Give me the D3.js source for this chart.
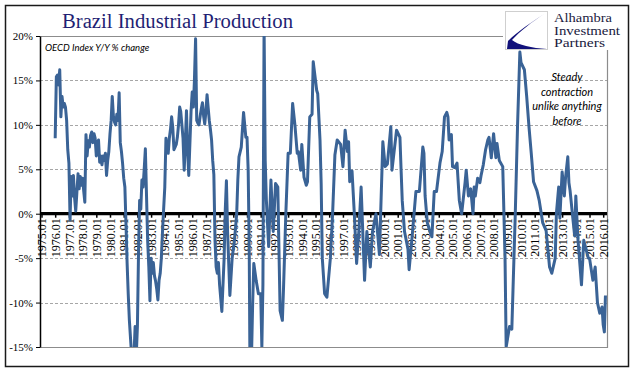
<!DOCTYPE html>
<html><head><meta charset="utf-8">
<script src="https://cdn.jsdelivr.net/npm/d3@7"></script>
<style>body{margin:0;background:#fff}svg{display:block}</style>
</head><body>
<svg id="c" width="641" height="379"></svg>
<script>
// ---- data (OECD Brazil industrial production index, Y/Y % change) ----
const months = [
"1976-01","1976-02","1976-03","1976-04","1976-05","1976-06","1976-07","1976-08","1976-09","1976-10","1976-11","1976-12",
"1977-01","1977-02","1977-03","1977-04","1977-05","1977-06","1977-07","1977-08","1977-09","1977-10","1977-11","1977-12",
"1978-01","1978-02","1978-03","1978-04","1978-05","1978-06","1978-07","1978-08","1978-09","1978-10","1978-11","1978-12",
"1979-01","1979-02","1979-03","1979-04","1979-05","1979-06","1979-07","1979-08","1979-09","1979-10","1979-11","1979-12",
"1980-01","1980-02","1980-03","1980-04","1980-05","1980-06","1980-07","1980-08","1980-09","1980-10","1980-11","1980-12",
"1981-01","1981-02","1981-03","1981-04","1981-05","1981-06","1981-07","1981-08","1981-09","1981-10","1981-11","1981-12",
"1982-01","1982-02","1982-03","1982-04","1982-05","1982-06","1982-07","1982-08","1982-09","1982-10","1982-11","1982-12",
"1983-01","1983-02","1983-03","1983-04","1983-05","1983-06","1983-07","1983-08","1983-09","1983-10","1983-11","1983-12",
"1984-01","1984-02","1984-03","1984-04","1984-05","1984-06","1984-07","1984-08","1984-09","1984-10","1984-11","1984-12",
"1985-01","1985-02","1985-03","1985-04","1985-05","1985-06","1985-07","1985-08","1985-09","1985-10","1985-11","1985-12",
"1986-01","1986-02","1986-03","1986-04","1986-05","1986-06","1986-07","1986-08","1986-09","1986-10","1986-11","1986-12",
"1987-01","1987-02","1987-03","1987-04","1987-05","1987-06","1987-07","1987-08","1987-09","1987-10","1987-11","1987-12",
"1988-01","1988-03","1988-05","1988-06","1988-07","1988-08","1988-10","1988-12",
"1989-02","1989-04","1989-05","1989-06","1989-08","1989-10","1989-12",
"1990-01","1990-02","1990-03","1990-04","1990-05","1990-06","1990-07","1990-09","1990-11","1990-12",
"1991-01","1991-02","1991-03","1991-04","1991-05","1991-06","1991-08","1991-10","1991-12",
"1992-02","1992-04","1992-06","1992-08","1992-09","1992-11",
"1993-01","1993-03","1993-05","1993-07","1993-09","1993-10","1993-12",
"1994-01","1994-03","1994-05","1994-06","1994-08","1994-10","1994-11",
"1995-01","1995-02","1995-03","1995-05","1995-06","1995-07","1995-09","1995-11",
"1996-02","1996-04","1996-06","1996-08","1996-11",
"1997-01","1997-03","1997-05","1997-06","1997-07","1997-09","1997-11",
"1998-01","1998-03","1998-05","1998-08","1998-10",
"1999-01","1999-03","1999-06","1999-09","1999-12",
"2000-02","2000-04","2000-07","2000-08","2000-12",
"2001-03","2001-04","2001-05","2001-07","2001-10","2001-11",
"2002-02","2002-05","2002-08","2002-11","2002-12",
"2003-01","2003-03","2003-05","2003-07","2003-09","2003-11",
"2004-02","2004-04","2004-06","2004-08","2004-09","2004-10","2004-12",
"2005-01","2005-03","2005-05","2005-07","2005-09","2005-12",
"2006-01","2006-03","2006-05","2006-07","2006-08","2006-09","2006-11",
"2007-01","2007-02","2007-04","2007-06","2007-08","2007-09","2007-11",
"2008-01","2008-03","2008-04","2008-06","2008-09","2008-11","2008-12",
"2009-03","2009-05","2009-06","2009-08","2009-10","2009-12",
"2010-01","2010-04","2010-06","2010-08","2010-10","2010-12",
"2011-03","2011-05","2011-08","2011-11",
"2012-02","2012-04","2012-07","2012-08","2012-10","2012-11",
"2013-01","2013-03","2013-04","2013-06","2013-07","2013-08","2013-10","2013-12",
"2014-01","2014-03","2014-06","2014-08","2014-10","2014-12",
"2015-01","2015-04","2015-06","2015-08","2015-10","2015-12",
"2016-01","2016-02","2016-03"
];
const yoy = [
8.5,15.4,15.6,14.5,16.2,10.9,13.2,12.0,12.4,12.0,10.5,7.2,
5.7,-0.7,4.2,2.0,4.3,1.8,0.3,2.4,4.5,2.8,4.2,3.2,
4.0,2.5,1.3,8.9,6.5,8.2,7.5,8.8,9.2,8.0,9.0,8.5,
6.5,8.0,8.3,5.8,6.5,5.5,6.5,6.0,6.8,4.3,6.0,7.0,
9.0,10.5,13.2,11.0,10.3,10.0,11.2,10.5,13.6,8.0,7.0,5.7,
4.0,3.0,-1.0,-5.5,-9.0,-12.0,-14.0,-16.0,-15.5,-16.0,-12.7,-16.0,
-12.7,-4.0,1.5,0.5,3.8,3.0,5.0,7.3,2.0,-3.0,-6.0,-9.8,
-5.0,-6.7,-5.5,-7.0,-7.6,-8.5,-9.7,-7.5,-6.7,-5.0,-2.0,0.5,
3.0,8.5,7.5,6.8,8.5,9.5,10.9,9.7,7.2,7.5,7.8,8.6,
10.0,12.0,11.5,10.0,8.5,4.9,8.0,11.6,7.0,4.3,8.0,11.5,
13.7,12.0,15.0,19.7,10.5,10.2,10.0,11.0,11.8,12.5,11.0,10.1,
11.5,13.4,12.0,10.5,9.5,8.3,6.0,4.4,-3.0,-6.0,-6.7,-5.5,
-8.0,-11.0,-5.0,0.5,3.7,-2.0,-9.2,-5.0,
-3.0,0.0,3.8,6.4,7.5,11.4,8.6,
8.6,4.9,-4.0,-25.0,-16.0,-10.0,-5.6,-7.5,-9.0,-9.0,
-9.0,-15.0,-8.0,21.0,6.0,1.5,-3.7,3.8,-2.0,
3.4,3.0,-10.9,-12.0,-8.3,0.0,
6.8,6.8,12.4,10.0,6.8,7.0,4.9,
7.8,4.1,3.2,3.6,10.9,11.2,17.1,
15.0,13.9,13.5,8.3,3.4,-5.0,-9.0,-9.4,
-5.0,0.0,6.6,8.3,7.8,
5.3,9.4,7.0,8.1,3.6,4.8,0.0,
-5.6,-2.0,3.0,-7.5,-2.0,
-6.0,-2.0,0.0,-4.6,8.1,
5.3,5.6,9.8,4.9,9.4,
8.6,4.9,1.5,-2.0,-4.0,-6.3,
-2.0,2.5,2.5,7.5,6.8,
2.0,-1.0,-1.9,-2.6,2.5,2.5,
5.7,7.0,10.9,11.4,10.9,8.3,8.9,
5.3,5.2,5.7,1.5,0.0,3.5,
4.9,2.0,2.8,0.0,3.0,2.0,4.0,
3.5,4.3,5.5,7.2,8.3,8.6,6.3,
9.0,6.3,7.9,6.0,5.3,-5.0,-15.0,
-12.7,-13.0,-8.6,0.0,10.0,18.2,
17.0,16.2,13.2,9.8,6.8,3.6,
2.6,1.5,-1.0,-1.9,
-6.0,-6.7,-5.0,0.0,3.0,-0.5,
4.7,2.0,4.0,6.4,3.5,2.6,0.0,-2.5,
2.0,-3.0,-8.0,-3.0,-4.0,-5.0,
-5.0,-7.5,-6.0,-10.0,-11.2,-10.5,
-12.5,-13.3,-9.2
];
const yTicks = [20, 15, 10, 5, 0, -5, -10, -15];
const gridTicks = [15, 10, 5, -5, -10];
const xTickYears = d3.range(1975, 2017);
const noteLines = ["Steady", "contraction", "unlike anything", "before"];
const logoLines = ["Alhambra", "Investment", "Partners"];

// ---- layout ----
const svg = d3.select("#c");
const L = 40, R = 607, T = 36, B = 347;
const parse = d3.timeParse("%Y-%m");
const x = d3.scaleTime().domain([new Date(1975,0,1), new Date(2016,0,1)]).range([41.5, 603.2]);
const y = d3.scaleLinear().domain([-15, 20]).range([B, T]);
const data = months.map((m, i) => ({d: parse(m), v: yoy[i]}));

// outer frame
svg.append("rect").attr("x",5.5).attr("y",5.5).attr("width",623).attr("height",361)
  .attr("fill","#fff").attr("stroke","#1a1a1a").attr("stroke-width",1.5);

// grid
svg.append("g").selectAll("line").data(gridTicks).join("line")
  .attr("x1",L).attr("x2",R).attr("y1",d=>Math.round(y(d))+0.5).attr("y2",d=>Math.round(y(d))+0.5)
  .attr("stroke","#a6a6a6").attr("stroke-width",1).attr("stroke-dasharray","3,2");

// plot border (top, right, bottom)
svg.append("path").attr("d",`M${L},${T+0.5}H${R+0.5}V${B+0.5}H${L}`)
  .attr("fill","none").attr("stroke","#8c8c8c").attr("stroke-width",1.2);

// clip
svg.append("clipPath").attr("id","pc").append("rect").attr("x",L).attr("y",T).attr("width",R-L).attr("height",B-T);

// x axis at zero
const xAxis = d3.axisBottom(x).tickValues(xTickYears.map(yr => new Date(yr,0,1)))
  .tickFormat(d => d.getFullYear() + ".01").tickSize(4).tickSizeOuter(0);
const gx = svg.append("g").attr("transform",`translate(0,${y(0)})`).call(xAxis);
gx.select(".domain").remove();
gx.selectAll(".tick line").attr("stroke","#000").attr("stroke-width",1.5);
gx.selectAll(".tick text").attr("transform","rotate(-90)").attr("text-anchor","end")
  .attr("x",-4.5).attr("y",0).attr("dy","0.35em")
  .style("font-family","'Liberation Serif','Times New Roman',serif").style("font-size","12px").attr("fill","#000");
svg.append("line").attr("x1",L).attr("x2",R).attr("y1",y(0)).attr("y2",y(0))
  .attr("stroke","#000").attr("stroke-width",3.2);

// line
const line = d3.line().x(d=>x(d.d)).y(d=>y(d.v));
svg.append("path").datum(data).attr("clip-path","url(#pc)")
  .attr("d",line).attr("fill","none").attr("stroke","#3a6396").attr("stroke-width",3)
  .attr("stroke-linejoin","round");

// y axis
const yAxis = d3.axisLeft(y).tickValues(yTicks).tickFormat(d=>d+"%").tickSize(4).tickPadding(3).tickSizeOuter(0);
const gy = svg.append("g").attr("transform",`translate(${L},0)`).call(yAxis);
gy.select(".domain").attr("stroke","#000").attr("stroke-width",1.5);
gy.selectAll(".tick line").attr("stroke","#000");
gy.selectAll(".tick text").style("font-family","'Liberation Serif','Times New Roman',serif")
  .style("font-size","11px").attr("fill","#000");

// title
svg.append("text").attr("x",62).attr("y",28).text("Brazil Industrial Production")
  .attr("textLength",231).attr("lengthAdjust","spacingAndGlyphs")
  .style("font-family","'Liberation Serif','Times New Roman',serif").style("font-size","20px").attr("fill","#1f1f74");

// subtitle
svg.append("text").attr("x",45).attr("y",51).text("OECD Index Y/Y % change")
  .style("font-family","Lato,'Open Sans',sans-serif").style("font-style","italic").style("font-size","9.5px").attr("fill","#000");

// annotation
svg.append("g").selectAll("text").data(noteLines).join("text")
  .attr("x",567).attr("y",(d,i)=>81+i*14.5).attr("text-anchor","middle").text(d=>d)
  .style("font-family","Lato,'Open Sans',sans-serif").style("font-style","italic").style("font-size","11px").attr("fill","#000");

// logo
const lg = svg.append("g");
lg.append("rect").attr("x",503).attr("y",7).attr("width",122).attr("height",43).attr("fill","#fff");
lg.append("rect").attr("x",505.5).attr("y",11.5).attr("width",42).attr("height",38).attr("fill","#fff").attr("stroke","#cfcfcf");
lg.append("path").attr("d","M544,14 C532,22 518,31 508,41 L507,49 L547,49 C532,48 518,45 512,40 C520,31 532,22 544,14 Z")
  .attr("fill","#12127a");
const logoW = [58, 66, 51];
lg.append("g").selectAll("text").data(logoLines).join("text")
  .attr("x",554).attr("y",(d,i)=>22+i*12.7).text(d=>d)
  .attr("textLength",(d,i)=>logoW[i]).attr("lengthAdjust","spacingAndGlyphs")
  .style("font-family","'Liberation Serif','Times New Roman',serif").style("font-size","12.5px").attr("fill","#1a1a40");
</script>
</body></html>
